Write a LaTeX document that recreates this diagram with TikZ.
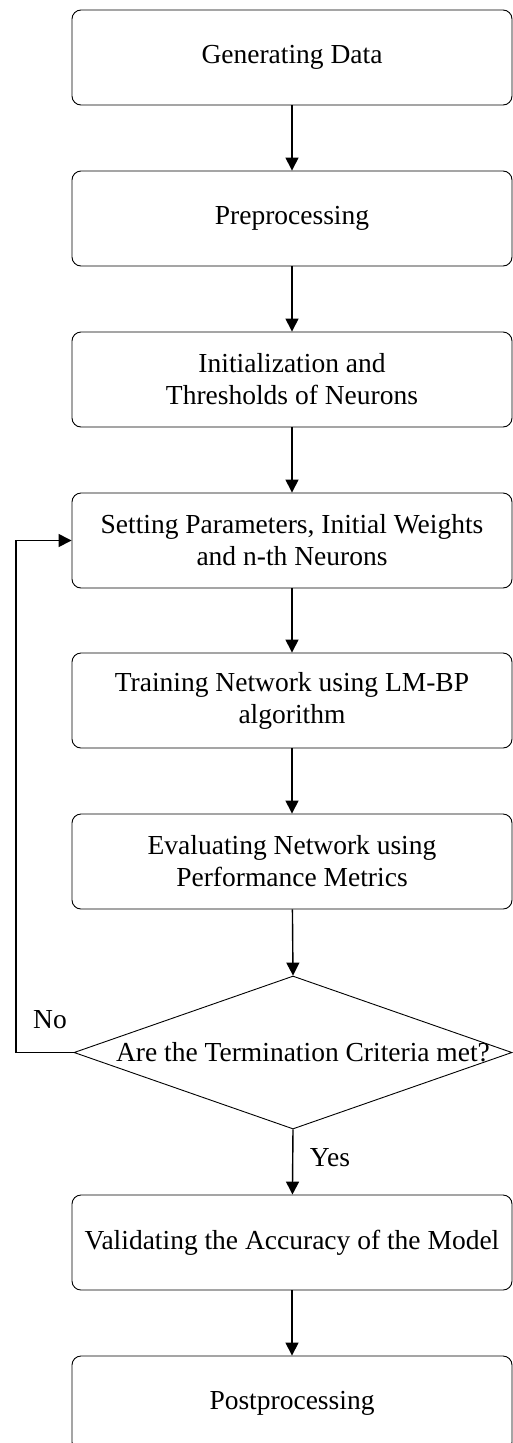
\documentclass[tikz,border=0pt]{standalone}
\usepackage{fontspec}
\setmainfont{Liberation Serif}
\usetikzlibrary{shapes.geometric,arrows.meta}
\begin{document}
\begin{tikzpicture}[x=1pt,y=-1pt,
  stepbox/.style={draw, rounded corners=9pt, line width=0.9pt, minimum width=440pt, minimum height=95pt, inner sep=0pt, align=center, font=\fontsize{27.5}{32}\selectfont},
  lbl/.style={font=\fontsize{27.5}{32}\selectfont, inner sep=0pt},
  conn/.style={line width=1.4pt, -{Triangle[width=13pt,length=13pt]}}]
\useasboundingbox (0,0) rectangle (513,1443);
\node[stepbox] (b1) at (292,57.5) {Generating Data};
\node[stepbox] (b2) at (292,218.5) {Preprocessing};
\node[stepbox] (b3) at (292,379.5) {Initialization and\\Thresholds of Neurons};
\node[stepbox] (b4) at (292,540.5) {Setting Parameters, Initial Weights\\and n-th Neurons};
\node[stepbox] (b5) at (292,700.5) {Training Network using LM-BP\\algorithm};
\node[stepbox] (b6) at (292,861.5) {Evaluating Network using\\Performance Metrics};
\node[diamond, draw, line width=0.9pt, minimum width=438pt, minimum height=153pt, inner sep=0pt] (d) at (293,1052.5) {};
\node[lbl] (dt) at (303,1052.5) {Are the Termination Criteria met?};
\node[stepbox] (b7) at (292,1242.5) {Validating the Accuracy of the Model};
\node[stepbox] (b8) at (292,1403.5) {Postprocessing};
\coordinate (lp) at (16,1052.5);
\draw[conn] (b1) -- (b2);
\draw[conn] (b2) -- (b3);
\draw[conn] (b3) -- (b4);
\draw[conn] (b4) -- (b5);
\draw[conn] (b5) -- (b6);
\draw[conn] (b6) -- (d.north);
\draw[conn] (d.south) -- (b7);
\draw[conn] (b7) -- (b8);
\draw[conn] (d.west) -- (lp) |- (b4.west);
\node[lbl] (no) at (50,1020) {No};
\node[lbl] (yes) at (330,1158) {Yes};
\end{tikzpicture}
\end{document}
